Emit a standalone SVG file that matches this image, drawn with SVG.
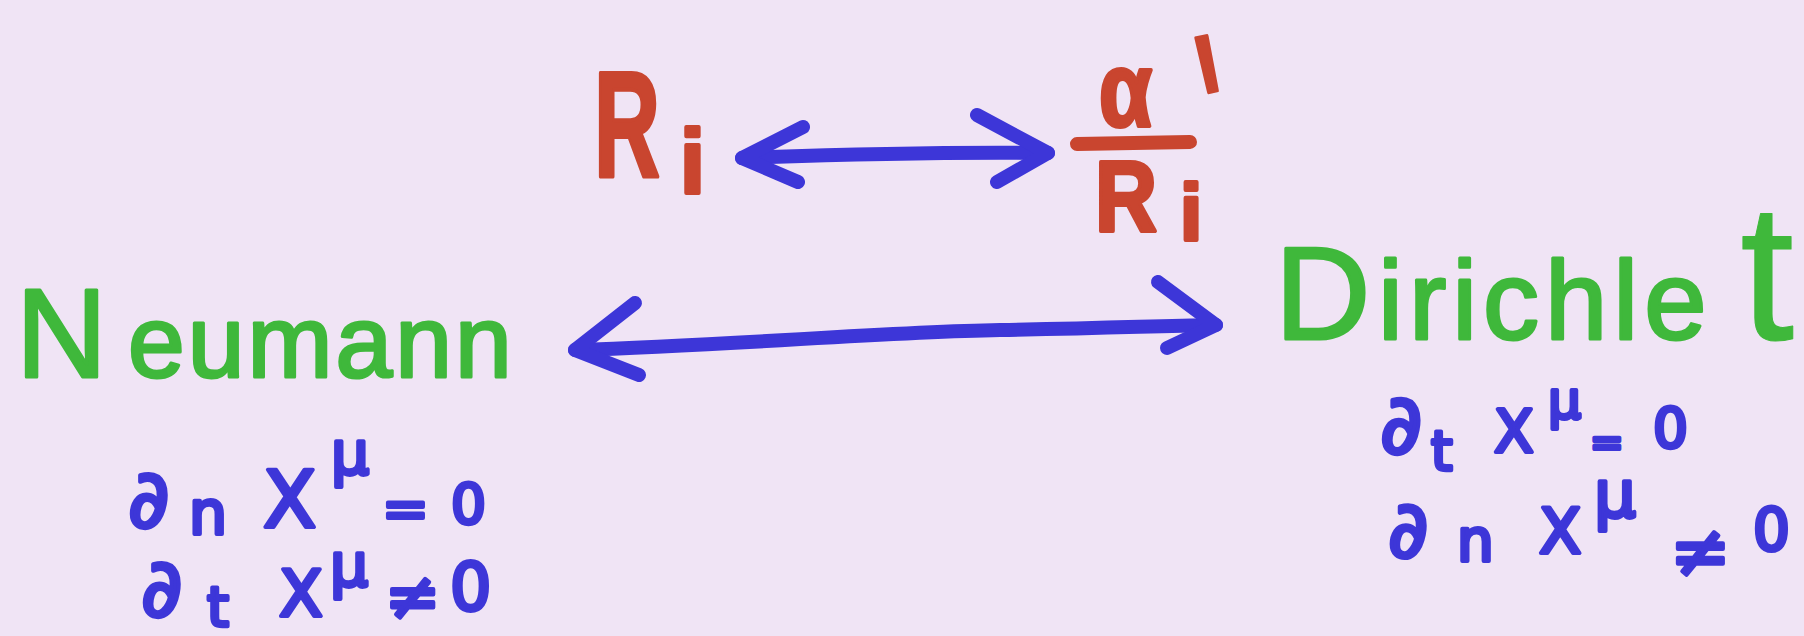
<svg xmlns="http://www.w3.org/2000/svg" width="1804" height="636" viewBox="0 0 1804 636">
<style>
.red{fill:#c9452f;stroke:#c9452f;stroke-width:4;stroke-linejoin:round;font-family:"Liberation Sans",sans-serif;font-weight:bold}
.green{fill:#3fb83b;stroke:#3fb83b;stroke-width:3;stroke-linejoin:round;font-family:"Liberation Sans",sans-serif}
.eq{fill:#3d36d8;stroke:#3d36d8;stroke-width:4;stroke-linejoin:round;font-family:"DejaVu Sans",sans-serif}
.conn{fill:none;stroke:#3d36d8;stroke-width:14;stroke-linecap:round;stroke-linejoin:round}
</style>
<rect width="1804" height="636" fill="#f0e4f5"/>
<g id="node-Ri">
<text class="red" x="594" y="176" font-size="150" textLength="66" lengthAdjust="spacingAndGlyphs">R</text>
<text class="red" x="680" y="193" font-size="90">i</text>
</g>
<g id="node-alpha-over-Ri">
<text class="red" x="1099" y="126" font-size="106" stroke-width="3" textLength="53" lengthAdjust="spacingAndGlyphs">α</text>
<text class="red" font-size="210" stroke-width="1" font-family="DejaVu Sans, sans-serif" font-weight="normal" transform="translate(1222,188) rotate(-12) scale(0.45,1.05)">'</text>
<line x1="1077" y1="144" x2="1190" y2="142" stroke="#c9452f" stroke-width="14" stroke-linecap="round"/>
<text class="red" x="1095" y="231" font-size="100" textLength="62" lengthAdjust="spacingAndGlyphs">R</text>
<text class="red" x="1180" y="240" font-size="80">i</text>
</g>
<g id="node-Neumann">
<text class="green" x="16" y="377" font-size="126">N<tspan x="128" font-size="102" letter-spacing="3">eumann</tspan></text>
</g>
<g id="node-Dirichlet">
<text class="green" x="1275" y="339" font-size="132">D<tspan x="1378" font-size="112" letter-spacing="6">irichle</tspan><tspan x="1740" font-size="195" stroke-width="1">t</tspan></text>
</g>
<g id="node-Neumann-eq">
<text class="eq"><tspan x="128" y="527" font-size="80">∂</tspan><tspan x="189" y="534" font-size="60">n</tspan><tspan x="263" y="527" font-size="78">X</tspan><tspan x="331" y="474" font-size="60">μ</tspan><tspan x="382" y="528" font-size="56">=</tspan><tspan x="451" y="523" font-size="55">0</tspan></text>
<text class="eq"><tspan x="141" y="616" font-size="80">∂</tspan><tspan x="207" y="626" font-size="56">t</tspan><tspan x="279" y="616" font-size="64">X</tspan><tspan x="330" y="586" font-size="60">μ</tspan><tspan x="385" y="619" font-size="66">≠</tspan><tspan x="450" y="610" font-size="65">0</tspan></text>
</g>
<g id="node-Dirichlet-eq">
<text class="eq"><tspan x="1380" y="453" font-size="82">∂</tspan><tspan x="1431" y="470" font-size="55">t</tspan><tspan x="1494" y="452" font-size="58">X</tspan><tspan x="1548" y="418" font-size="52">μ</tspan><tspan x="1590" y="456" font-size="40">=</tspan><tspan x="1653" y="447" font-size="55">0</tspan></text>
<text class="eq"><tspan x="1388" y="557" font-size="78">∂</tspan><tspan x="1457" y="561" font-size="58">n</tspan><tspan x="1539" y="553" font-size="62">X</tspan><tspan x="1594" y="517" font-size="66">μ</tspan><tspan x="1670" y="576" font-size="72">≠</tspan><tspan x="1753" y="550" font-size="58">0</tspan></text>
</g>
<g id="connectors">
<path class="conn" d="M742,158 C850,154 950,152 1048,153"/>
<path class="conn" d="M803,127 L742,158 L798,182"/>
<path class="conn" d="M977,115 L1048,153 L997,182"/>
<path class="conn" d="M575,350 C740,345 880,332 1000,330 S1150,326 1216,325"/>
<path class="conn" d="M635,303 L575,350 L639,375"/>
<path class="conn" d="M1158,282 L1216,325 L1167,348"/>
</g>
</svg>
